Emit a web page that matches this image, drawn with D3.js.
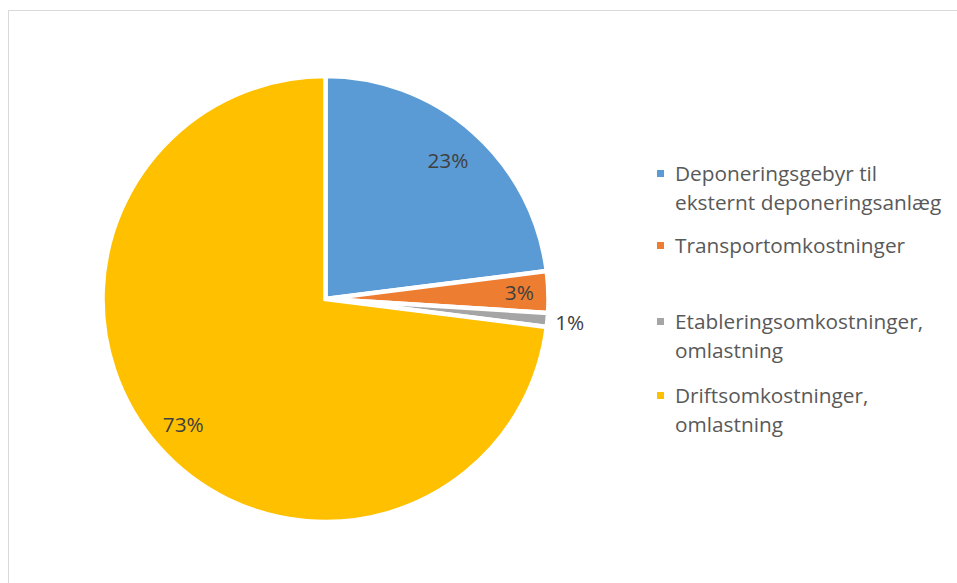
<!DOCTYPE html>
<html>
<head>
<meta charset="utf-8">
<script src="https://cdn.jsdelivr.net/npm/d3@7"></script>
<style>
  html, body { margin: 0; padding: 0; background: #fff; }
  svg { display: block; font-family: "Open Sans", "Noto Sans", sans-serif; }
</style>
</head>
<body>
<svg id="chart" width="957" height="583"></svg>
<script>
// Cost breakdown shares (percent)
const categories = [
  "Deponeringsgebyr til eksternt deponeringsanlæg",
  "Transportomkostninger",
  "Etableringsomkostninger, omlastning",
  "Driftsomkostninger, omlastning"
];
const values = [23, 3, 1, 73];
const legendLines = [
  ["Deponeringsgebyr til", "eksternt deponeringsanlæg"],
  ["Transportomkostninger"],
  ["Etableringsomkostninger,", "omlastning"],
  ["Driftsomkostninger,", "omlastning"]
];
const colors = ["#5B9BD5", "#ED7D31", "#A5A5A5", "#FFC000"];
// how far out each percentage label sits, as a fraction of the radius
const labelRadius = [0.83, 0.87, 1.1, 0.85];

const svg = d3.select("#chart");

// chart area frame
svg.append("rect")
  .attr("x", 8.5).attr("y", 10.5)
  .attr("width", 1000).attr("height", 1000)
  .attr("fill", "none")
  .attr("stroke", "#d9d9d9")
  .attr("stroke-width", 1);

const cx = 325.5, cy = 299, r = 223;
const data = values.map((v, i) => ({ name: categories[i], value: v, i }));

const pie = d3.pie().value(d => d.value).sort(null);
const arcs = pie(data);
const arc = d3.arc().innerRadius(0).outerRadius(r);

const g = svg.append("g").attr("transform", `translate(${cx},${cy})`);

g.selectAll("path.slice")
  .data(arcs)
  .join("path")
  .attr("class", "slice")
  .attr("d", arc)
  .attr("fill", d => colors[d.data.i])
  .attr("stroke", "#fff")
  .attr("stroke-width", 4.5)
  .attr("stroke-linejoin", "miter");

g.selectAll("text.pct")
  .data(arcs)
  .join("text")
  .attr("class", "pct")
  .attr("transform", d => {
    const k = labelRadius[d.data.i] * r;
    const c = d3.arc().innerRadius(k).outerRadius(k).centroid(d);
    return `translate(${c[0]},${c[1]})`;
  })
  .attr("text-anchor", "middle")
  .attr("dy", "0.36em")
  .attr("font-size", 20.8)
  .attr("fill", "#404040")
  .text(d => d.data.value + "%");

// legend
const legendX = 657, textX = 675;
const firstBaseline = [181, 253, 329, 403];
const lineH = 29;
const lg = svg.append("g");
legendLines.forEach((lines, i) => {
  const b = firstBaseline[i];
  lg.append("rect")
    .attr("x", legendX).attr("y", b - 11)
    .attr("width", 7).attr("height", 7)
    .attr("fill", colors[i]);
  const t = lg.append("text")
    .attr("x", textX).attr("y", b)
    .attr("font-size", 20.8)
    .attr("fill", "#595959");
  lines.forEach((ln, j) => {
    t.append("tspan").attr("x", textX).attr("y", b + j * lineH).text(ln);
  });
});
</script>
</body>
</html>
